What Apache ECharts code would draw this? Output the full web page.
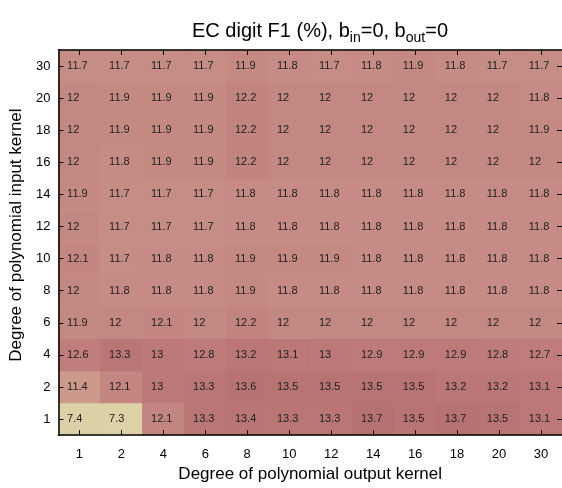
<!DOCTYPE html>
<html><head><meta charset="utf-8">
<script src="https://cdn.jsdelivr.net/npm/echarts@6/dist/echarts.min.js"></script>
<style>html,body{margin:0;padding:0;background:#fff}#c{width:562px;height:488px}</style>
</head><body><div id="c"></div>
<script>
const outDegrees = ['1','2','4','6','8','10','12','14','16','18','20','30'];
const inDegrees = ['1','2','4','6','8','10','12','14','16','18','20','30'];
// rows keyed by input-kernel degree (bottom to top), columns by output-kernel degree
const row1  = [7.4, 7.3, 12.1, 13.3, 13.4, 13.3, 13.3, 13.7, 13.5, 13.7, 13.5, 13.1];
const row2  = [11.4, 12.1, 13, 13.3, 13.6, 13.5, 13.5, 13.5, 13.5, 13.2, 13.2, 13.1];
const row4  = [12.6, 13.3, 13, 12.8, 13.2, 13.1, 13, 12.9, 12.9, 12.9, 12.8, 12.7];
const row6  = [11.9, 12, 12.1, 12, 12.2, 12, 12, 12, 12, 12, 12, 12];
const row8  = [12, 11.8, 11.8, 11.8, 11.9, 11.8, 11.8, 11.8, 11.8, 11.8, 11.8, 11.8];
const row10 = [12.1, 11.7, 11.8, 11.8, 11.9, 11.9, 11.9, 11.8, 11.8, 11.8, 11.8, 11.8];
const row12 = [12, 11.7, 11.7, 11.7, 11.8, 11.8, 11.8, 11.8, 11.8, 11.8, 11.8, 11.8];
const row14 = [11.9, 11.7, 11.7, 11.7, 11.8, 11.8, 11.8, 11.8, 11.8, 11.8, 11.8, 11.8];
const row16 = [12, 11.8, 11.9, 11.9, 12.2, 12, 12, 12, 12, 12, 12, 12];
const row18 = [12, 11.9, 11.9, 11.9, 12.2, 12, 12, 12, 12, 12, 12, 11.9];
const row20 = [12, 11.9, 11.9, 11.9, 12.2, 12, 12, 12, 12, 12, 12, 11.8];
const row30 = [11.7, 11.7, 11.7, 11.7, 11.9, 11.8, 11.7, 11.8, 11.9, 11.8, 11.7, 11.7];
const rows = [row1, row2, row4, row6, row8, row10, row12, row14, row16, row18, row20, row30];

const data = [];
rows.forEach((r, yi) => r.forEach((v, xi) => data.push([xi, yi, v])));

// colour anchors (value -> rgb)
const anchors = [
  [7.3, [221, 209, 168]],
  [11.4, [204, 153, 138]],
  [11.7, [198, 141, 133]],
  [12.0, [195, 136, 129]],
  [12.6, [192, 125, 123]],
  [13.0, [188, 121, 120]],
  [13.7, [181, 114, 113]]
];
const vmin = 7.3, vmax = 13.7, N = 65;
const colors = [];
for (let i = 0; i < N; i++) {
  const v = vmin + (vmax - vmin) * i / (N - 1);
  let k = 0;
  while (k < anchors.length - 2 && v > anchors[k + 1][0]) k++;
  const [a0, c0] = anchors[k], [a1, c1] = anchors[k + 1];
  const t = Math.max(0, Math.min(1, (v - a0) / (a1 - a0)));
  const c = c0.map((x, j) => Math.round(x + (c1[j] - x) * t));
  colors.push('rgb(' + c.join(',') + ')');
}

const font = 'Liberation Sans, Arial, sans-serif';
const tickStyle = { show: true, inside: true, alignWithLabel: true, length: 5, lineStyle: { color: '#000', width: 1 } };
const chart = echarts.init(document.getElementById('c'));
chart.setOption({
  animation: false,
  title: {
    text: '{n|EC digit F1 (%), b}{s|in}{n|=0, b}{s|out}{n|=0}',
    left: 315, top: 12, textAlign: 'center',
    textStyle: {
      rich: {
        n: { fontSize: 20, fontFamily: font, color: '#000', fontWeight: 'normal' },
        s: { fontSize: 14, fontFamily: font, color: '#000', fontWeight: 'normal', padding: [14, 0, 0, 0] }
      }
    }
  },
  grid: { left: 56, right: 0, top: 50, bottom: 42 },
  visualMap: { show: false, min: vmin, max: vmax, dimension: 2, inRange: { color: colors } },
  xAxis: [
    {
      type: 'category', data: outDegrees, position: 'bottom', z: 10,
      name: 'Degree of polynomial output kernel', nameLocation: 'middle', nameGap: 30,
      nameTextStyle: { fontSize: 17, fontFamily: font, color: '#000' },
      axisLine: { show: true, lineStyle: { color: '#000', width: 1.5 } },
      axisTick: tickStyle,
      axisLabel: { fontSize: 13, fontFamily: font, color: '#000', margin: 13 },
      splitLine: { show: false }
    },
    {
      type: 'category', data: outDegrees, position: 'top', z: 10,
      axisLine: { show: true, lineStyle: { color: '#000', width: 1.5 } },
      axisTick: tickStyle,
      axisLabel: { show: false }, splitLine: { show: false }
    }
  ],
  yAxis: [
    {
      type: 'category', data: inDegrees, position: 'left', z: 10,
      name: 'Degree of polynomial input kernel', nameLocation: 'middle', nameGap: 26,
      nameTextStyle: { fontSize: 17, fontFamily: font, color: '#000', padding: [0, 0, 0, 15] },
      axisLine: { show: true, lineStyle: { color: '#000', width: 1.5 } },
      axisTick: tickStyle,
      axisLabel: { fontSize: 13, fontFamily: font, color: '#000', margin: 8 },
      splitLine: { show: false }
    },
    {
      type: 'category', data: inDegrees, position: 'right', z: 10,
      axisLine: { show: false },
      axisTick: tickStyle,
      axisLabel: { show: false }, splitLine: { show: false }
    }
  ],
  series: [{
    type: 'heatmap', data: data,
    label: {
      show: true, position: 'insideLeft', distance: 9,
      fontSize: 11, fontFamily: font, color: '#222',
      formatter: p => String(p.value[2])
    },
    itemStyle: { borderWidth: 0 },
    emphasis: { disabled: true }
  }]
});
</script></body></html>
